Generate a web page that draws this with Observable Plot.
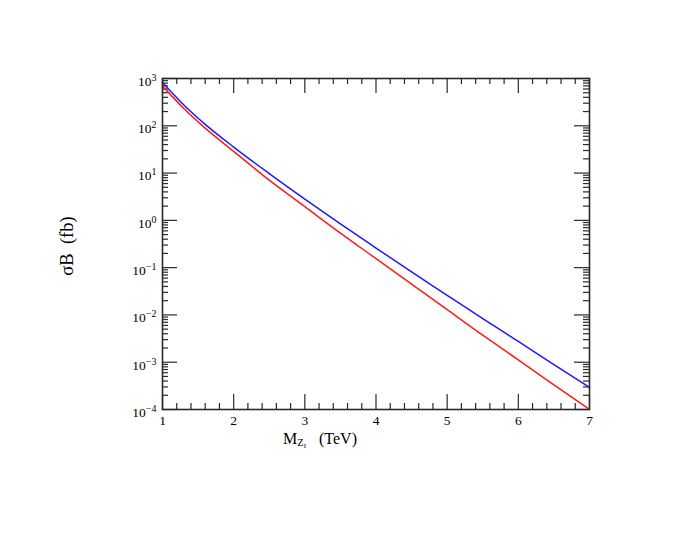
<!DOCTYPE html>
<html><head><meta charset="utf-8">
<script src="https://cdn.jsdelivr.net/npm/d3@7"></script>
<script src="https://cdn.jsdelivr.net/npm/@observablehq/plot@0.6"></script>
<style>body{margin:0;background:#fff}</style>
</head><body><div id="chart"></div>
<script>
// Mass of Z_I (TeV)
const massTeV   = [1, 1.3, 1.6, 2, 2.5, 3, 3.5, 4, 4.5, 5, 5.5, 6, 6.5, 7];
// sigma*B (fb), blue curve
const sigmaBlue = [822, 275, 107, 35.5, 9.77, 2.82, 0.841, 0.260, 0.0813, 0.0260, 0.00832, 0.00275, 0.000891, 0.000295];
// sigma*B (fb), red curve
const sigmaRed  = [692, 232, 89.1, 28.8, 7.08, 1.95, 0.537, 0.155, 0.0447, 0.0129, 0.00372, 0.00112, 0.000331, 0.0001];

const xMajorTicks = [1, 2, 3, 4, 5, 6, 7];
const xMinorTicks = [1.2,1.4,1.6,1.8,2.2,2.4,2.6,2.8,3.2,3.4,3.6,3.8,4.2,4.4,4.6,4.8,5.2,5.4,5.6,5.8,6.2,6.4,6.6,6.8];
const yExponents = [3, 2, 1, 0, -1, -2, -3, -4];
const yMinorMultipliers = [2, 3, 4, 5, 6, 7, 8, 9];

const W = 692, H = 535;
const mL = 162, mR = 103, mT = 78, mB = 126;
const pw = W - mL - mR, ph = H - mT - mB;
const yMajorTicks = yExponents.map(e => Math.pow(10, e));
const yMinorTicks = yExponents.filter(e => e < 3).flatMap(e => yMinorMultipliers.map(m => m * Math.pow(10, e)));
const ink = "#2a2a2a";
const majLen = 15, minLen = 6;
const serif = "Liberation Serif";

const blueData = massTeV.map((m, i) => ({m, s: sigmaBlue[i]}));
const redData  = massTeV.map((m, i) => ({m, s: sigmaRed[i]}));

const svg = Plot.plot({
  width: W, height: H,
  marginLeft: mL, marginRight: mR, marginTop: mT, marginBottom: mB,
  style: {fontFamily: serif, fontSize: "13.5px", color: "#000", background: "#fff"},
  x: {domain: [1, 7], ticks: xMajorTicks, tickSize: 0, tickPadding: 6, tickFormat: d => String(d), label: null},
  y: {type: "log", domain: [1e-4, 1e3], axis: null},
  marks: [
    Plot.tickX(xMajorTicks, {x: d => d, insetTop: ph - majLen, stroke: ink, strokeWidth: 1.2}),
    Plot.tickX(xMajorTicks, {x: d => d, insetBottom: ph - majLen, stroke: ink, strokeWidth: 1.2}),
    Plot.tickX(xMinorTicks, {x: d => d, insetTop: ph - minLen, stroke: ink, strokeWidth: 1.2}),
    Plot.tickX(xMinorTicks, {x: d => d, insetBottom: ph - minLen, stroke: ink, strokeWidth: 1.2}),
    Plot.tickY(yMajorTicks, {y: d => d, insetRight: pw - majLen, stroke: ink, strokeWidth: 1.2}),
    Plot.tickY(yMajorTicks, {y: d => d, insetLeft: pw - majLen, stroke: ink, strokeWidth: 1.2}),
    Plot.tickY(yMinorTicks, {y: d => d, insetRight: pw - minLen, stroke: ink, strokeWidth: 1.2}),
    Plot.tickY(yMinorTicks, {y: d => d, insetLeft: pw - minLen, stroke: ink, strokeWidth: 1.2}),
    Plot.text(yMajorTicks, {y: d => d, frameAnchor: "left", dx: -6, dy: 3, textAnchor: "end",
      text: d => String(Math.round(Math.log10(d))), fill: "#000", fontSize: 13.5}),
    Plot.line(redData, {x: "m", y: "s", stroke: "#ff1a1a", strokeWidth: 1.5, curve: "monotone-x"}),
    Plot.line(blueData, {x: "m", y: "s", stroke: "#1a1aff", strokeWidth: 1.5, curve: "monotone-x"}),
    Plot.frame({stroke: ink, strokeWidth: 1.6})
  ]
});
document.getElementById("chart").appendChild(svg);

const s = d3.select(svg);
// y tick labels as 10^k with superscript exponents
s.selectAll('g[aria-label="text"] text').each(function() {
  const t = d3.select(this);
  const e = +t.text();
  t.text("10");
  t.append("tspan").attr("dy", "-0.5em").attr("font-size", "10px").text(e < 0 ? "\u2212" + Math.abs(e) : String(e));
});

// x axis label: M_{Z_I} (TeV)
const xl = s.append("text").attr("x", 283).attr("y", 444).attr("text-anchor", "start")
  .attr("font-family", serif).attr("font-size", "16px").attr("fill", "#000");
xl.append("tspan").text("M");
xl.append("tspan").attr("dy", 1.5).attr("font-size", "10.5px").text("Z");
xl.append("tspan").attr("dy", 2).attr("font-size", "7px").text("I");
xl.append("tspan").attr("dy", -3.5).attr("dx", 13).text("(TeV)");

// y axis label
s.append("text").attr("transform", "translate(73,246) rotate(-90)").attr("text-anchor", "middle")
  .attr("font-family", serif).attr("font-size", "18.5px").attr("fill", "#000")
  .attr("xml:space", "preserve").text("\u03c3B  (fb)");
</script>
</body></html>
